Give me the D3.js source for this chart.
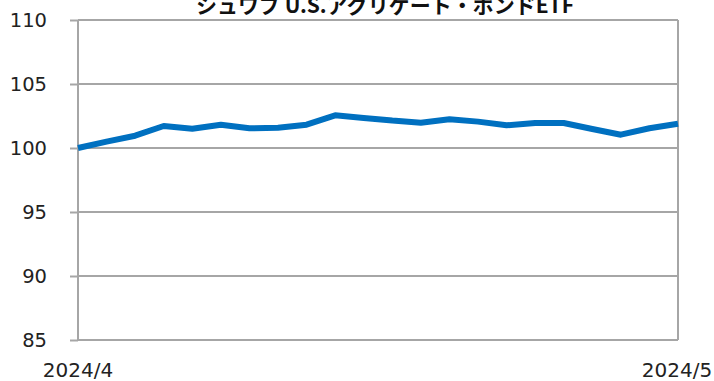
<!DOCTYPE html>
<html>
<head>
<meta charset="utf-8">
<script src="https://cdn.jsdelivr.net/npm/d3@7"></script>
<style>
  html, body { margin: 0; padding: 0; background: #fff; }
  svg { display: block; }
</style>
</head>
<body>
<svg id="chart" width="714" height="381"></svg>
<script>
// Chart title and data series (indexed daily values, start = 100)
const title = "シュワブ U.S.アグリゲート・ボンドETF";
const dayIndex = d3.range(22);
const values = [100.0, 100.5, 100.96, 101.72, 101.51, 101.82, 101.54, 101.59, 101.82, 102.55,
                102.35, 102.14, 101.98, 102.24, 102.06, 101.77, 101.95, 101.95, 101.48, 101.04,
                101.54, 101.9];
const yTicks = [85, 90, 95, 100, 105, 110];
const xTickLabels = ["2024/4", "2024/5"];

const svg = d3.select("#chart");
const plot = { left: 78, right: 678, top: 20, bottom: 340 };

const x = d3.scaleLinear().domain([0, dayIndex.length - 1]).range([plot.left, plot.right]);
const y = d3.scaleLinear().domain([85, 110]).range([plot.bottom, plot.top]);

const gridColor = "#a6a6a6";
const font = "'DejaVu Sans', Verdana, sans-serif";

// Horizontal gridlines
svg.append("g").selectAll("line").data(yTicks).join("line")
  .attr("x1", plot.left).attr("x2", plot.right)
  .attr("y1", d => y(d)).attr("y2", d => y(d))
  .attr("stroke", gridColor).attr("stroke-width", 2);

// Left axis with short tick stubs
const yAxis = d3.axisLeft(y).tickValues(yTicks).tickSize(8).tickPadding(23).tickFormat(d3.format("d"));
const gy = svg.append("g").attr("transform", `translate(${plot.left},0)`).call(yAxis);
gy.select(".domain").attr("stroke", gridColor).attr("stroke-width", 2).attr("d", `M0,${plot.top}V${plot.bottom}`);
gy.selectAll(".tick line").attr("stroke", gridColor).attr("stroke-width", 2);
gy.selectAll(".tick text").attr("font-family", font).attr("font-size", 19.5).attr("fill", "#222");

// Right edge of the frame
svg.append("line").attr("x1", plot.right).attr("x2", plot.right).attr("y1", plot.top).attr("y2", plot.bottom)
  .attr("stroke", gridColor).attr("stroke-width", 2);

// X labels at the first and last day
svg.append("g").selectAll("text").data(xTickLabels).join("text")
  .attr("x", (d, i) => i === 0 ? x(0) : x(dayIndex.length - 1) - 1)
  .attr("y", 377)
  .attr("text-anchor", "middle")
  .attr("font-family", font).attr("font-size", 20).attr("fill", "#222")
  .text(d => d);

// Price line
const line = d3.line().x((d, i) => x(dayIndex[i])).y(d => y(d));
svg.append("path").datum(values)
  .attr("d", line)
  .attr("fill", "none")
  .attr("stroke", "#0070c0")
  .attr("stroke-width", 6)
  .attr("stroke-linejoin", "round");

// Title (partly above the visible area)
svg.append("text")
  .attr("x", 385).attr("y", 12.5)
  .attr("text-anchor", "middle")
  .attr("font-family", "'Noto Sans CJK JP', sans-serif")
  .attr("font-weight", "bold")
  .attr("font-size", 21)
  .attr("fill", "#111")
  .text(title);
</script>
</body>
</html>
